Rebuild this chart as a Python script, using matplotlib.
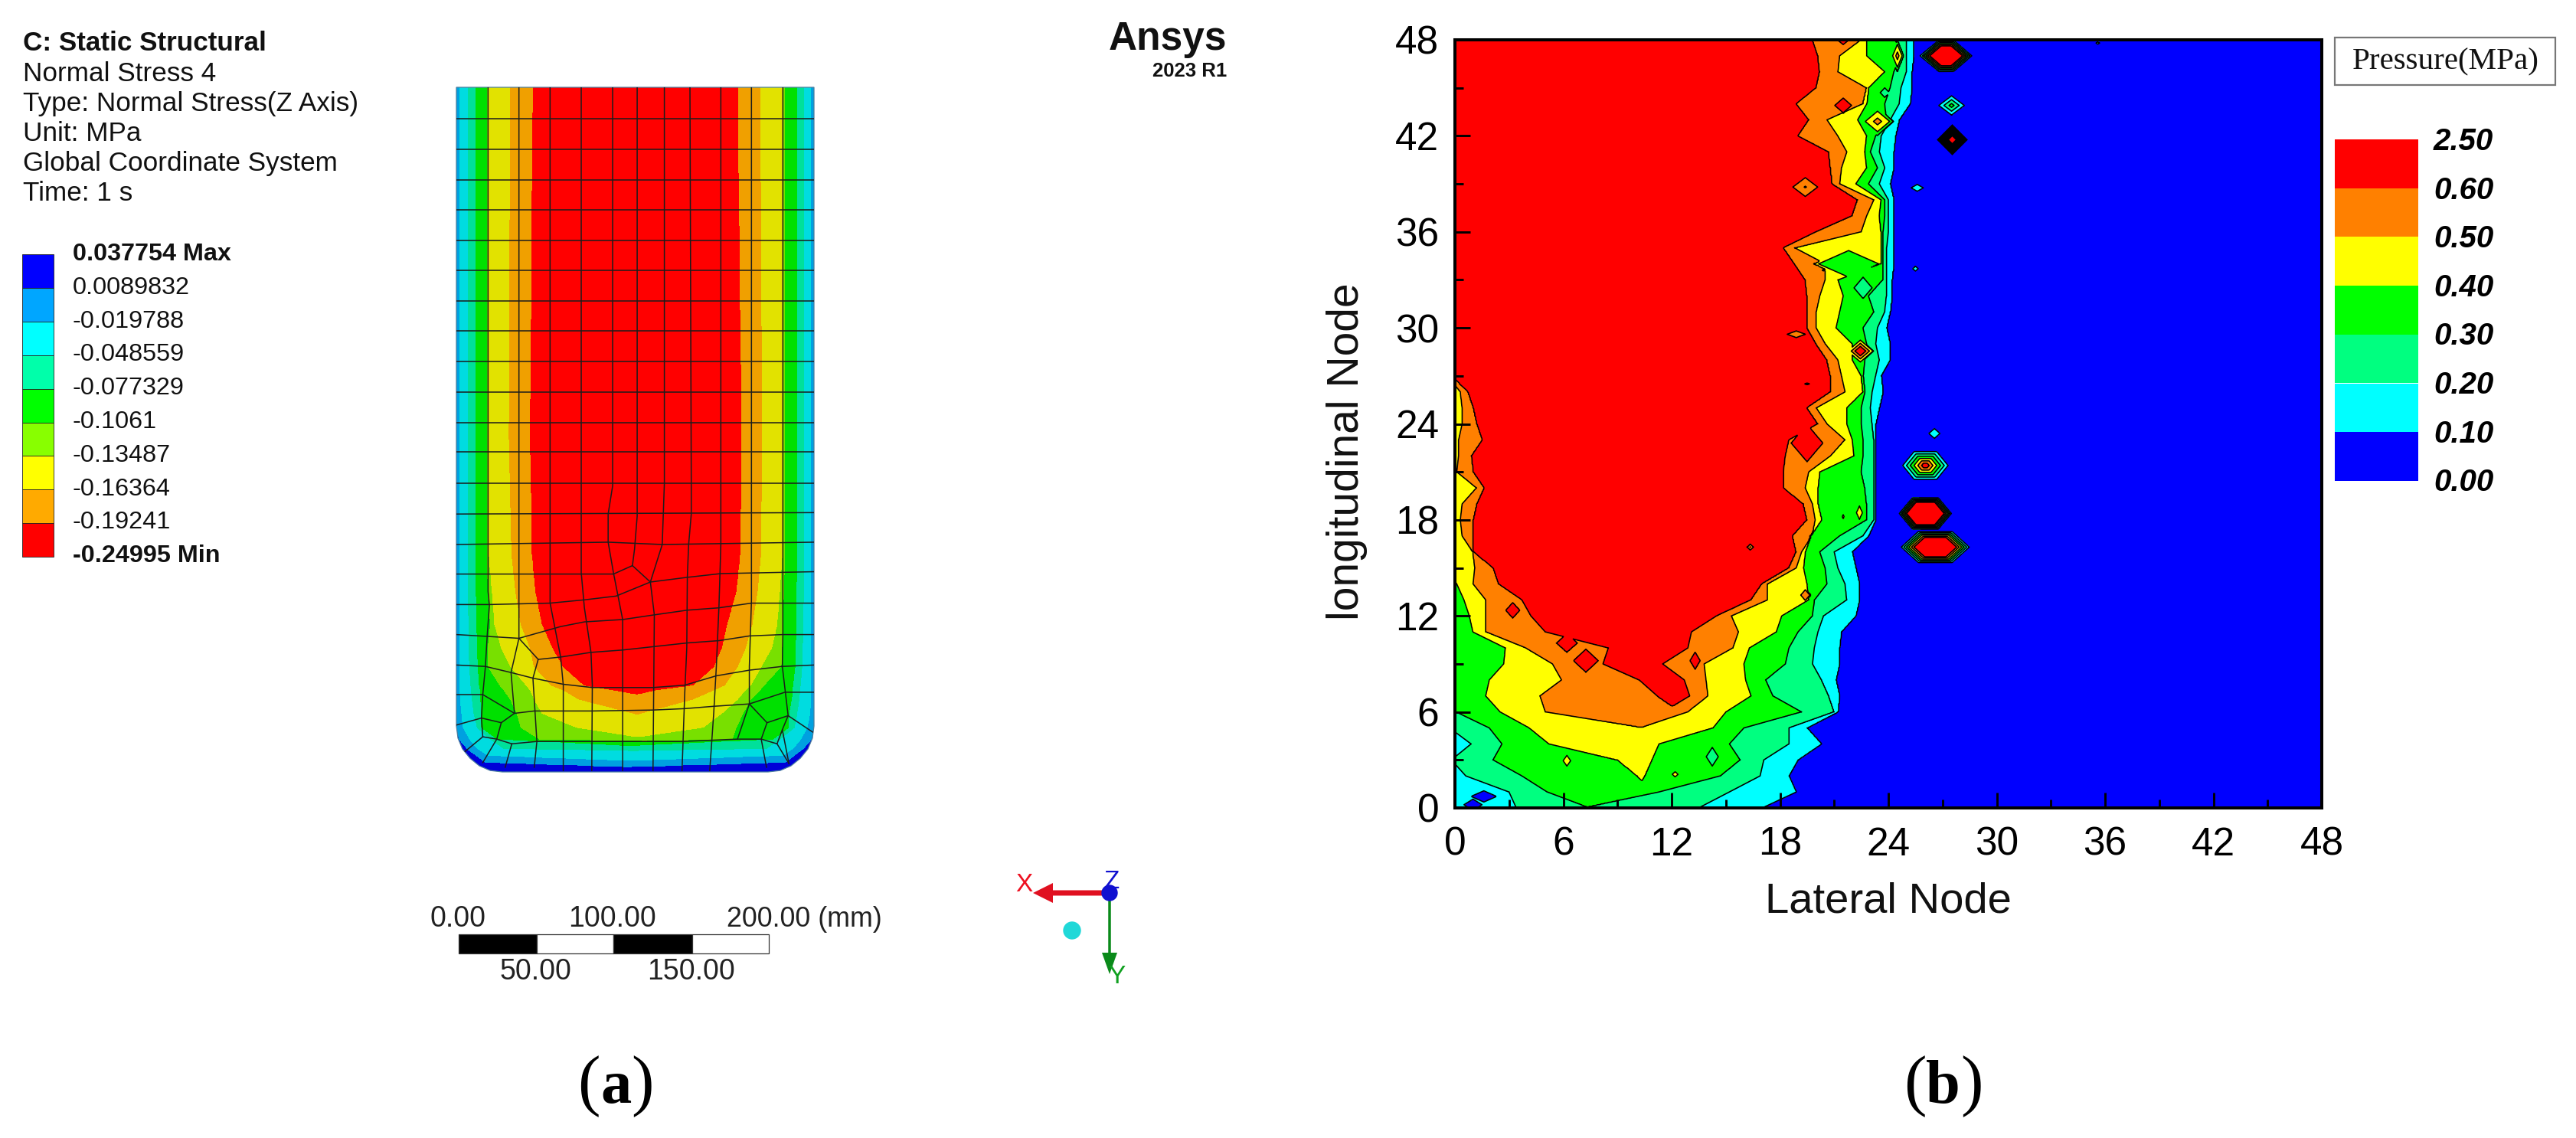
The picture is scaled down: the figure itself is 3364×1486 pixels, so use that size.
import numpy as np
import matplotlib
matplotlib.use("Agg")
import matplotlib.pyplot as plt
from matplotlib.patches import Rectangle, PathPatch, Circle, FancyArrow
from matplotlib.path import Path

W, H = 3364, 1486
plt.rcParams['font.family'] = ['Liberation Sans', 'DejaVu Sans']

# ---------- (a) legend and header ----------
header_lines = ["C: Static Structural", "Normal Stress 4", "Type: Normal Stress(Z Axis)",
                "Unit: MPa", "Global Coordinate System", "Time: 1 s"]
stress_labels = ["0.037754 Max", "0.0089832", "-0.019788", "-0.048559", "-0.077329",
                 "-0.1061", "-0.13487", "-0.16364", "-0.19241", "-0.24995 Min"]
stress_colors = ["#0000ff", "#00a6ff", "#00ffff", "#00ffaa", "#00ff00",
                 "#88ff00", "#ffff00", "#ffaa00", "#ff0000"]

# ---------- (a) field: band edges along the part, in mesh units ----------
a_rows = [55, 800, 1050, 1130, 1200, 1250, 1290, 1330, 1340, 1360, 1390, 1420, 1445, 1465, 1480, 1495, 1505, 1515]
a_band_L = [
    [100]*11 + [105, 115, 145, 180, 215, 800, 1000],
    [118]*9 + [120, 125, 131, 155, 185, 224, 1000, 1000, 1000],
    [150, 150, 150, 150, 152, 153, 155, 160, 162, 165, 172, 185, 235, 285, 2000, 2000, 2000, 2000],
    [180, 180, 180, 180, 182, 185, 187, 192, 195, 197, 200, 200, 260, 1000, 1000, 1000, 1000, 1000],
    [222, 222, 222, 225, 235, 225, 225, 270, 285, 310, 335, 350, 420, 3000, 3000, 3000, 3000, 3000],
    [228, 228, 228, 240, 250, 275, 310, 370, 385, 400, 430, 560, 850, 1000, 1000, 1000, 1000, 1000],
    [310, 305, 315, 330, 350, 385, 400, 465, 510, 570, 780, 1000, 1000, 1000, 1000, 1000, 1000, 1000],
    [395, 385, 392, 405, 430, 470, 510, 590, 700, 900, 900, 900, 900, 900, 900, 900, 900, 900],
]
a_band_R = [
    [1470]*10 + [1465, 1460, 1450, 1420, 1385, 1350, 700, 400],
    [1448]*9 + [1447, 1445, 1434, 1410, 1380, 1341, 500, 500, 500],
    [1420, 1420, 1420, 1420, 1418, 1416, 1414, 1408, 1406, 1403, 1395, 1385, 1330, 1280, -500, -500, -500, -500],
    [1395, 1395, 1395, 1393, 1392, 1390, 1388, 1380, 1378, 1375, 1365, 1365, 1305, 500, 500, 500, 500, 500],
    [1348, 1348, 1348, 1345, 1340, 1338, 1335, 1270, 1255, 1220, 1190, 1165, 1150, -1000, -1000, -1000, -1000, -1000],
    [1340, 1340, 1340, 1330, 1320, 1300, 1260, 1220, 1200, 1170, 1110, 1040, 730, 600, 600, 600, 600, 600],
    [1255, 1262, 1258, 1245, 1225, 1200, 1170, 1120, 1080, 1000, 800, 700, 700, 700, 700, 700, 700, 700],
    [1170, 1185, 1180, 1165, 1130, 1110, 1080, 1000, 860, 700, 700, 700, 700, 700, 700, 700, 700, 700],
]
a_band_vals = [1, 2, 3, 4, 5, 6, 7, 8]
a_colors = ["#0000d8", "#00a0e0", "#00dce0", "#00e09a", "#00e000", "#78e000", "#e2e200", "#f0a000", "#ff0000"]
a_outline_x = [105, 105, 111, 128, 157, 192, 233, 279, 1286, 1332, 1373, 1408, 1437, 1454, 1460, 1460, 105]
a_outline_y = [55, 1417, 1443, 1466, 1486, 1502, 1512, 1515, 1515, 1512, 1502, 1486, 1466, 1443, 1417, 55, 55]

a_mesh = [
    # along the part
    [(225, 55), (225, 1130), (230, 1160), (222, 1222), (215, 1290), (205, 1350), (200, 1400), (205, 1440), (130, 1475)],
    [(342, 55), (342, 1230), (312, 1303), (325, 1390), (275, 1410), (258, 1445), (205, 1495)],
    [(460, 55), (460, 1155), (500, 1270), (510, 1330), (510, 1512)],
    [(578, 55), (578, 1090), (590, 1165), (615, 1260), (620, 1330), (618, 1512)],
    [(697, 55), (697, 905), (680, 965), (680, 1025), (700, 1090), (735, 1190), (735, 1512)],
    [(790, 55), (790, 970), (780, 1040), (772, 1075)],
    [(893, 55), (893, 900), (885, 1030), (840, 1110), (855, 1180), (850, 1512)],
    [(990, 55), (995, 900), (995, 965), (985, 1030), (980, 1100), (978, 1250), (970, 1350), (960, 1512)],
    [(1107, 55), (1107, 1030), (1100, 1160), (1090, 1290), (1080, 1390), (1065, 1512)],
    [(1223, 55), (1223, 1150), (1215, 1290), (1215, 1370), (1170, 1445)],
    [(1342, 55), (1342, 1222), (1340, 1290), (1362, 1395), (1340, 1425), (1365, 1497)],
    # across the part
    [(105, 122), (1460, 122)], [(105, 187), (1460, 187)], [(105, 252), (1460, 252)],
    [(105, 316), (1460, 316)], [(105, 381), (1460, 381)], [(105, 446), (1460, 446)],
    [(105, 510), (1460, 510)], [(105, 575), (1460, 575)], [(105, 640), (1460, 640)],
    [(105, 705), (1460, 705)], [(105, 770), (1460, 770)], [(105, 833), (1460, 833)],
    [(105, 900), (1460, 900)], [(105, 965), (1460, 962)], [(105, 1030), (680, 1025), (885, 1030), (1460, 1025)],
    [(105, 1093), (700, 1093), (772, 1075), (840, 1110), (980, 1100), (1107, 1092), (1460, 1088)],
    [(105, 1158), (230, 1158), (460, 1155), (590, 1148), (710, 1140), (840, 1110)],
    [(105, 1222), (342, 1230), (500, 1205), (590, 1195), (735, 1190), (855, 1180), (980, 1170), (1100, 1165), (1223, 1155), (1460, 1155)],
    [(342, 1230), (415, 1275), (500, 1270), (615, 1260), (735, 1255), (978, 1240), (1100, 1235), (1215, 1225), (1342, 1222), (1460, 1222)],
    [(415, 1275), (395, 1315), (410, 1450), (400, 1505)],
    [(105, 1287), (215, 1290), (312, 1303), (395, 1315), (510, 1328), (620, 1335), (850, 1335), (970, 1330), (1090, 1310), (1215, 1298), (1340, 1290), (1460, 1287)],
    [(105, 1350), (205, 1350), (325, 1390), (400, 1385), (620, 1385), (850, 1383), (970, 1380), (1080, 1375), (1215, 1370), (1350, 1345), (1460, 1345)],
    [(105, 1415), (200, 1400), (275, 1410)],
    [(205, 1440), (258, 1445), (315, 1455), (410, 1450), (620, 1450), (850, 1450), (960, 1450), (1170, 1445), (1260, 1445), (1320, 1455), (1340, 1425)],
    [(315, 1455), (290, 1505)],
    [(1215, 1370), (1282, 1410), (1260, 1445), (1280, 1505)],
    [(1282, 1410), (1362, 1395), (1455, 1430)],
    [(1320, 1455), (1365, 1497)],
]

# ---------- (b) contour: node position of each pressure level per row ----------
b_levels = [0.1, 0.2, 0.3, 0.4, 0.5, 0.6]
b_rows_left = np.arange(0, 28)
b_rows_right = np.arange(0, 49)
left_01 = [-2.0] * 28
left_02 = [3.4, 3.0, 0.6, -0.2, 0.9, -0.3] + [-1.0] * 22
left_03 = [7.5, 5.1, 3.7, 2.1, 2.6, 1.9, 0.05, -0.7] + [-0.8] * 20
left_04 = [11, 11, 10.1, 9.0, 5.2, 4.1, 2.5, 1.7, 1.9, 2.7, 2.8, 1.0, 0.8, 0.5, 0.1, -0.5] + [-0.6] * 12
left_05 = [10.6] * 6 + [5.0, 4.7, 5.9, 5.4, 3.9, 1.7, 1.7, 1.7, 1.0, 1.1, 1.0, 0.4, 0.3, 0.4, 1.2, 0.1, 0.2, 0.2, 0.4, 0.4, 0.3, -0.4]
left_06 = [12.5] * 7 + [11.2, 10.2, 8.2, 8.5, 5.0, 4.2, 3.7, 2.4, 2.1, 1.0, 1.0, 1.0, 1.2, 1.6, 1.0, 0.9, 1.5, 1.2, 1.0, 0.7, -0.2]
right_01 = [17, 18.9, 18.5, 19, 20.3, 19.5, 21.2, 21.3, 21.1, 21.3, 21.3, 21.4, 22.2, 22.4, 22.4, 22.2, 22, 22.9,
            23.3, 23.3, 23.3, 23.3, 23.3, 23.3, 23.3, 23.5, 23.7, 23.6, 24.1, 24.1, 23.9, 24.1, 24.2, 24.2, 24.3,
            24.3, 24.3, 24.3, 24.3, 24.1, 24.3, 24.3, 24.4, 24.6, 25.2, 25.3, 25.3, 25.4, 25.4]
right_02 = [13.5, 15.2, 16.9, 17.1, 18.5, 18.5, 21, 20.7, 20.3, 19.8, 19.9, 20.1, 20.4, 21.7, 21.6, 21.2, 21, 22.6,
            23.2, 23.2, 23.2, 23.2, 23.2, 23.2, 23.1, 23, 23.1, 23.3, 23.5, 23.3, 23.4, 23.8, 23.9, 23.9, 23.9,
            23.9, 24, 24, 24, 23.5, 23.8, 23.5, 23.6, 24.1, 24.6, 24.7, 25, 25, 25]
right_03 = [7.0, 11.3, 14.7, 15.8, 15.2, 16, 19.2, 17.6, 17.2, 18.3, 18.5, 19, 19.8, 19.9, 20.6, 20.5, 20.2, 21.3,
            22.8, 22.8, 22.7, 22.5, 22.6, 22.6, 22.5, 22.5, 22.7, 22.6, 22.7, 22.8, 22.6, 23.2, 22.9, 23.7, 23.7,
            23.7, 23.7, 23.8, 23.8, 22.9, 23.4, 23.0, 23.3, 23.9, 23.8, 24.1, 24.3, 24.7, 24.4]
right_04 = [10, 10, 10.5, 10.9, 11.3, 14.3, 15, 16.4, 16.1, 16, 16.3, 17.8, 18.1, 19.6, 19.5, 19.3, 19.4, 19.7,
            20.3, 20.1, 20.1, 20.2, 22.1, 22, 21.7, 21.7, 22.6, 22.5, 22, 22, 21.1, 21.3, 21.5, 21.2, 23.6,
            23.6, 23.6, 23.5, 23.6, 22.2, 22.8, 22.7, 22.8, 22.3, 22.8, 22.9, 23.8, 22.8, 22.8]
right_05 = [10.2] * 6 + [12.9, 14.0, 13.9, 13.8, 15.4, 15.7, 15.3, 17.3, 17.3, 18.9, 19.2, 19.8, 19.95, 19.8, 19.4, 19.6,
            20.8, 21.6, 20.6, 20.0, 21.6, 21.4, 21.2, 20.5, 20, 20, 20.2, 20.5, 20.5, 18.8, 22.5, 22.8, 23.2,
            21.3, 21.4, 21.7, 21.2, 20.6, 22.6, 22.8, 21.2, 21.3, 22.5]
right_06 = [11.5] * 7 + [13.0, 12.7, 11.5, 12.9, 13.1, 14.5, 16.4, 17.0, 18.5, 18.9, 18.7, 19.5, 19.3, 18.2, 18.2, 18.3,
            18.5, 20.1, 19.5, 20.8, 20.8, 20.6, 20.0, 19.5, 19.5, 19.5, 19.4, 18.8, 18.2, 20.0, 22.0, 22.3,
            20.9, 20.8, 20.7, 19.0, 19.6, 18.9, 20.0, 20.2, 20.1, 19.8]

# isolated nodes: x, y, half-width, half-height, value at the node, value at the rim, hexagon share
b_highs = [
    (27.2, 47.0, 1.47, 1.00, 1.50, 0.05, 0.3), (27.5, 43.9, 0.85, 0.72, 0.35, 0.05, 0.0),
    (26.05, 21.4, 1.36, 0.94, 0.70, 0.05, 0.5), (26.05, 18.4, 1.48, 1.00, 1.90, 0.05, 0.5),
    (26.6, 16.3, 1.95, 1.00, 1.45, 0.05, 0.5), (26.55, 23.4, 0.50, 0.50, 0.18, 0.05, 0.0),
    (25.6, 38.75, 0.55, 0.35, 0.18, 0.05, 0.0), (25.5, 33.7, 0.30, 0.30, 0.15, 0.05, 0.0),
    (35.6, 47.8, 0.20, 0.15, 0.15, 0.05, 0.0),
    (21.5, 48.0, 0.35, 0.30, 1.00, 0.59, 0.0), (24.5, 47.0, 0.35, 0.95, 0.55, 0.35, 0.0),
    (21.5, 43.9, 0.50, 0.48, 1.00, 0.59, 0.0), (23.4, 42.9, 0.90, 0.85, 0.55, 0.35, 0.0),
    (21.5, 33.6, 0.12, 0.10, 0.45, 0.38, 0.0), (22.45, 28.55, 0.75, 0.72, 0.75, 0.38, 0.0),
    (3.2, 12.35, 0.40, 0.50, 1.00, 0.59, 0.0), (6.2, 10.3, 0.60, 0.60, 1.00, 0.59, 0.0),
    (7.25, 9.2, 0.70, 0.75, 1.00, 0.59, 0.0), (13.3, 9.2, 0.30, 0.55, 1.00, 0.59, 0.0),
    (19.4, 13.3, 0.30, 0.40, 0.55, 0.49, 0.0), (22.4, 18.45, 0.20, 0.50, 0.45, 0.39, 0.0),
    (21.5, 18.2, 0.10, 0.25, 0.41, 0.39, 0.0), (6.2, 2.95, 0.25, 0.40, 0.45, 0.39, 0.0),
    (12.2, 2.1, 0.20, 0.20, 0.45, 0.39, 0.0), (19.5, 22.8, 0.90, 1.20, 1.00, 0.59, 0.0),
    (3.0, 8.1, 0.10, 0.10, 0.45, 0.39, 0.0),
]
b_lows = [
    (23.8, 44.7, 0.50, 0.60, 0.25, 0.35), (19.4, 38.8, 0.75, 0.64, 0.49, 0.61),
    (21.8, 34.0, 1.90, 0.95, 0.33, 0.41), (20.4, 33.6, 0.15, 0.08, 0.47, 0.55),
    (22.6, 32.5, 0.60, 0.80, 0.25, 0.31), (18.9, 29.6, 0.60, 0.25, 0.55, 0.61),
    (19.5, 26.5, 0.15, 0.06, 0.55, 0.61), (16.35, 16.3, 0.20, 0.20, 0.49, 0.61),
    (14.25, 3.2, 0.40, 0.70, 0.25, 0.31), (1.6, 0.72, 0.85, 0.42, 0.05, 0.11),
    (1.0, 0.2, 0.60, 0.42, 0.05, 0.11),
]
b_solid_x = [27.5]
b_solid_y = [41.8]
b_colors = ["#0000ff", "#00ffff", "#00ff80", "#00ff00", "#ffff00", "#ff8000", "#ff0000"]
b_bounds = [0.0, 0.1, 0.2, 0.3, 0.4, 0.5, 0.6, 2.5]
b_legend_labels = ["2.50", "0.60", "0.50", "0.40", "0.30", "0.20", "0.10", "0.00"]
b_ticks = [0, 6, 12, 18, 24, 30, 36, 42, 48]
b_minor = [3, 9, 15, 21, 27, 33, 39, 45]


def px_axes(fig, x0, y0, x1, y1):
    return fig.add_axes([x0 / W, 1 - y1 / H, (x1 - x0) / W, (y1 - y0) / H])


def band_field(xg, yg, left_tab, right_tab, vals, floor, step):
    Z = np.full((len(yg), len(xg)), float(floor))
    for j in range(len(yg)):
        lf, rt, vs = [], [], []
        lmax, rmin = -1e9, 1e9
        for i, v in enumerate(vals):
            l = max(lmax + 1e-3, left_tab[i][j])
            r = min(rmin - 1e-3, right_tab[i][j])
            if l >= r:
                break
            lf.append(l); rt.append(r); vs.append(v)
            lmax, rmin = l, r
        if not lf:
            continue
        mid = (lf[-1] + rt[-1]) / 2
        xs = [lf[0] - 5] + lf + [mid] + rt[::-1] + [rt[0] + 5]
        zs = [floor] + vs + [vs[-1] + step / 2] + vs[::-1] + [floor]
        Z[j] = np.interp(xg, xs, zs)
    return Z


fig = plt.figure(figsize=(W / 100, H / 100), dpi=100, facecolor='white')

# ---------- overlay in picture pixels ----------
ov = fig.add_axes([0, 0, 1, 1])
ov.set_xlim(0, W); ov.set_ylim(H, 0); ov.axis('off')

for i, t in enumerate(header_lines):
    ov.text(30, 57 + 39.2 * i, t, fontsize=25.3, va='center', ha='left',
            fontweight='bold' if i == 0 else 'normal', color='#111111')
for i, c in enumerate(stress_colors):
    ov.add_patch(Rectangle((29, 332 + 43.9 * i), 41, 43.9, facecolor=c, edgecolor='#222222', lw=0.6))
for i, t in enumerate(stress_labels):
    ov.text(95, 332 + 43.8 * i, t, fontsize=23.3, va='center', ha='left',
            fontweight='bold' if i in (0, 9) else 'normal', color='#111111')

# Ansys mark
ov.text(1602, 51, "Ansys", fontsize=37, fontweight='bold', ha='right', va='center', color='#111111')
ov.text(1602, 93, "2023 R1", fontsize=18.5, fontweight='bold', ha='right', va='center', color='#111111')

# scale bar
for x0, x1, c in [(599, 701, 'black'), (701, 801, 'white'), (801, 904, 'black'), (904, 1004, 'white')]:
    ov.add_patch(Rectangle((x0, 1220), x1 - x0, 25, facecolor=c, edgecolor='#333333', lw=0.9))
for x, t in [(598, "0.00"), (800, "100.00")]:
    ov.text(x, 1200, t, fontsize=27, ha='center', va='center', color='#222222')
ov.text(949, 1200, "200.00 (mm)", fontsize=25.8, ha='left', va='center', color='#222222')
for x, t in [(699, "50.00"), (903, "150.00")]:
    ov.text(x, 1269, t, fontsize=27, ha='center', va='center', color='#222222')

# triad
ov.add_patch(FancyArrow(1449, 1166, -100, 0, width=7, head_width=26, head_length=26,
                        length_includes_head=True, color='#e01020', lw=0))
ov.add_patch(FancyArrow(1449, 1172, 0, 100, width=3.5, head_width=20, head_length=28,
                        length_includes_head=True, color='#0a8a1a', lw=0))
ov.add_patch(Circle((1449, 1166), 10, color='#1010d0'))
ov.add_patch(Circle((1400, 1215), 11, color='#20d8d8'))
ov.text(1337, 1155, "X", fontsize=24, color='#ee1020', ha='center', va='center')
ov.text(1452, 1151, "Z", fontsize=24, color='#1010d0', ha='center', va='center')
ov.text(1458, 1276, "Y", fontsize=24, color='#10a020', ha='center', va='center')

# panel letters
for xl, xm, xr, ch in [(754, 784, 824, 'a'), (2486, 2515, 2560, 'b')]:
    ov.text(xl, 1440, "(", fontsize=64, family='Liberation Serif', ha='left', va='baseline')
    ov.text(xm, 1440, ch, fontsize=58, family='Liberation Serif', fontweight='bold', ha='left', va='baseline')
    ov.text(xr, 1440, ")", fontsize=64, family='Liberation Serif', ha='left', va='baseline')

# (b) legend
ov.add_patch(Rectangle((3049, 49), 288, 62, facecolor='white', edgecolor='#777777', lw=1.6))
ov.text(3072, 81, "Pressure(MPa)", fontsize=29.5, family='Liberation Serif', ha='left', va='center', color='#111111')
for i, c in enumerate(b_colors[::-1]):
    ov.add_patch(Rectangle((3049, 182 + 63.7 * i), 109, 63.7, facecolor=c, edgecolor='none'))
for i, t in enumerate(b_legend_labels):
    ov.text(3178, 185 + 63.6 * i, t, fontsize=29, fontweight='bold', style='italic', ha='left', va='center')

# axis titles of (b)
ov.text(2466, 1178, "Lateral Node", fontsize=40.5, ha='center', va='center', color='#111111')
ov.text(1759, 590, "longitudinal Node", fontsize=41, rotation=90, ha='center', va='center', color='#111111')

# ---------- (a) stress field ----------
axa = px_axes(fig, 596, 114, 1063, 1008)
axa.set_xlim(105, 1460); axa.set_ylim(1515, 55); axa.axis('off'); axa.patch.set_alpha(0)
xa = np.arange(100, 1466, 2.0)
ya = np.arange(55, 1516, 1.0)
LA = [np.interp(ya, a_rows, r) for r in a_band_L]
RA = [np.interp(ya, a_rows, r) for r in a_band_R]
Za = band_field(xa, ya, LA, RA, a_band_vals, 0.0, 1.0)
cs = axa.contourf(xa, ya, Za, levels=np.arange(0, 10), colors=a_colors, antialiased=False)
outline = PathPatch(Path(np.column_stack([a_outline_x, a_outline_y]), closed=True), transform=axa.transData,
                    facecolor='none', edgecolor='#4a7f9e', lw=0.9, clip_on=False)
axa.add_patch(outline)
cs.set_clip_path(outline)
for line in a_mesh:
    xy = np.array(line)
    l, = axa.plot(xy[:, 0], xy[:, 1], color='#1c1c1c', lw=1.1, solid_joinstyle='round')
    l.set_clip_path(outline)

# ---------- (b) pressure contour ----------
axb = px_axes(fig, 1900, 52, 3032, 1055)
xb = np.arange(0, 48.001, 0.05)
yb = np.arange(0, 48.001, 0.05)
lefts = [left_01, left_02, left_03, left_04, left_05, left_06]
rights = [right_01, right_02, right_03, right_04, right_05, right_06]
LB = [np.interp(yb, b_rows_left, r) for r in lefts]
RB = [np.interp(yb, b_rows_right, r) for r in rights]
Zb = band_field(xb, yb, LB, RB, b_levels, 0.05, 0.2)
GX, GY = np.meshgrid(xb, yb)
for x, y, rx, ry, peak, edge, hexa in b_highs:
    dx, dy = np.abs(GX - x) / rx, np.abs(GY - y) / ry
    d = np.maximum(dy, dx + (1 - hexa) * dy) if hexa else dx + dy
    Zb = np.where(d < 1, np.maximum(Zb, edge + (peak - edge) * (1 - d)), Zb)
for x, y, rx, ry, low, edge in b_lows:
    d = np.abs(GX - x) / rx + np.abs(GY - y) / ry
    Zb = np.where(d < 1, np.minimum(Zb, edge - (edge - low) * (1 - d)), Zb)
Zb = np.clip(Zb, 0.0, 2.5)
axb.contourf(GX, GY, Zb, levels=b_bounds, colors=b_colors)
axb.contour(GX, GY, Zb, levels=b_levels, colors='black', linewidths=1.15)
axb.scatter(b_solid_x, b_solid_y, marker='D', s=430, color='black', zorder=4, lw=0)
axb.scatter(b_solid_x, b_solid_y, marker='D', s=18, color='#ff0000', zorder=5, lw=0)
axb.set_xlim(0, 48); axb.set_ylim(0, 48)
axb.set_xticks(b_ticks); axb.set_yticks(b_ticks)
axb.set_xticks(b_minor, minor=True); axb.set_yticks(b_minor, minor=True)
axb.tick_params(which='major', direction='in', length=14.5, width=2.1, labelsize=37, top=False, right=False)
axb.tick_params(which='minor', direction='in', length=8, width=2.1, top=False, right=False)
axb.tick_params(axis='x', which='major', pad=17)
axb.tick_params(axis='y', which='major', pad=15)
for s in axb.spines.values():
    s.set_linewidth(2.9)

fig.savefig("out.png", dpi=100, facecolor='white')
